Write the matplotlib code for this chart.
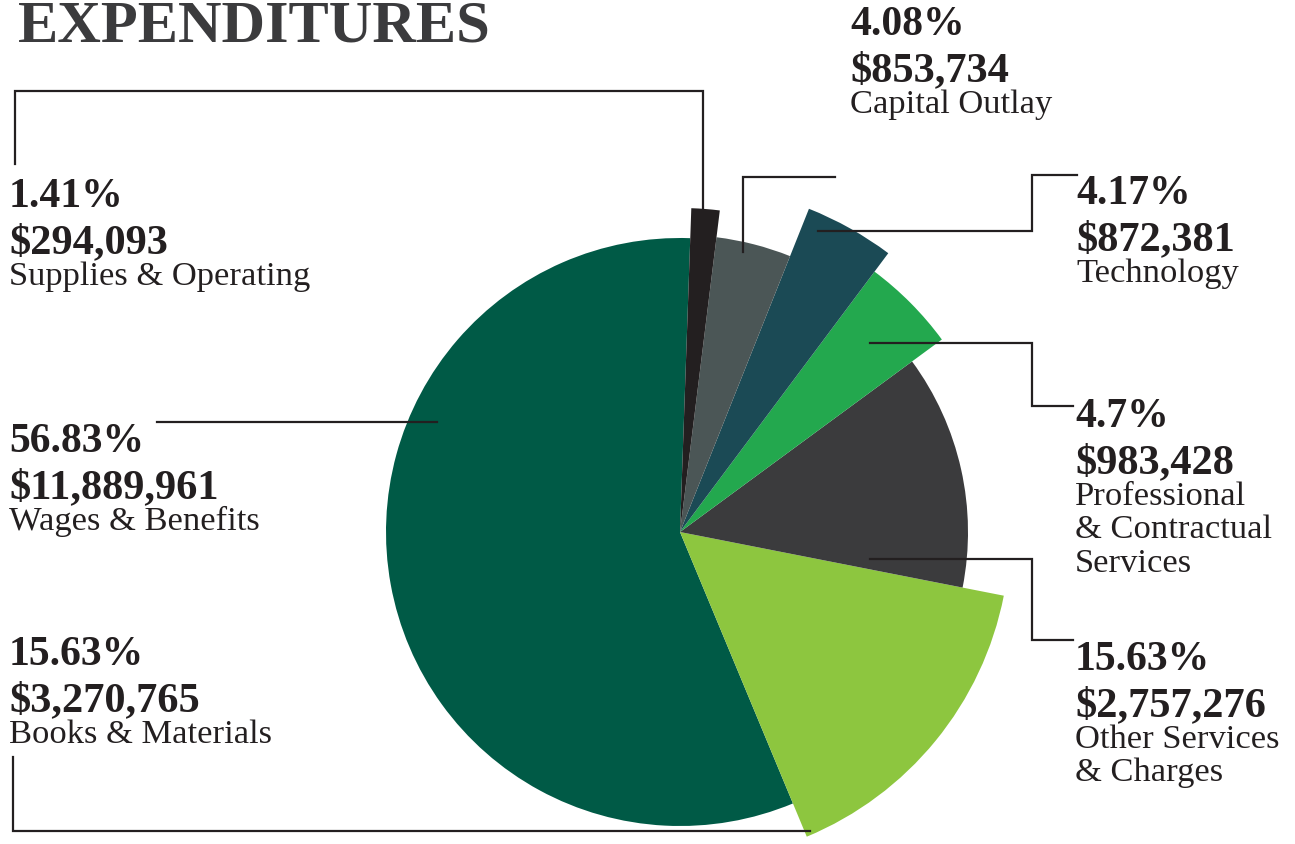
import matplotlib.pyplot as plt

# Expenditure categories, in pie order (counter-clockwise from the top)
categories = ["Wages & Benefits", "Books & Materials", "Other Services\n& Charges",
              "Professional\n& Contractual\nServices", "Technology",
              "Capital Outlay", "Supplies & Operating"]
amounts = [11889961, 3270765, 2757276, 983428, 872381, 853734, 294093]
pct_labels = ["56.83%", "15.63%", "15.63%", "4.7%", "4.17%", "4.08%", "1.41%"]

colors = ["#005a46", "#8dc63f", "#3b3b3d", "#23a84e", "#1b4a55", "#4b5656", "#231f20"]
radii = [294, 330, 288, 325, 348, 297, 324]

W, H = 1295, 845
ink = "#231f20"
serif = "Liberation Serif"

fig = plt.figure(figsize=(W / 100, H / 100), dpi=100)
ax = fig.add_axes([0, 0, 1, 1])

# everything below is laid out in pixel units, y measured from the top
def px(x, y):
    return x, H - y

cx, cy = px(680, 533)
wedges, _ = ax.pie(amounts, colors=colors, startangle=88, counterclock=True,
                   center=(cx, cy), radius=300, wedgeprops=dict(linewidth=0))
for w, r in zip(wedges, radii):
    w.set_radius(r)

ax.set_xlim(0, W)
ax.set_ylim(0, H)
ax.axis("off")

# label block anchors: left x and baseline of the percentage line
label_pos = [(9, 452), (9, 665), (1075, 670), (1075, 427), (1076, 204), (850, 35), (9, 207)]

for name, amt, pct, (x, y) in zip(categories, amounts, pct_labels, label_pos):
    ax.text(*px(x, y), pct, fontsize=30, weight="bold", family=serif, color=ink, va="baseline")
    ax.text(*px(x, y + 46), f"${amt:,}", fontsize=30.5, weight="bold", family=serif,
            color=ink, va="baseline")
    for i, line in enumerate(name.split("\n")):
        ax.text(*px(x, y + 78 + i * 33.5), line, fontsize=24.8, family=serif,
                color=ink, va="baseline")

# leader lines
leaders = [
    [(157, 423), (437, 423)],
    [(13, 758), (13, 832), (810, 832)],
    [(1073, 641), (1032, 641), (1032, 560), (870, 560)],
    [(1073, 407), (1032, 407), (1032, 344), (870, 344)],
    [(1077, 176), (1032, 176), (1032, 232), (818, 232)],
    [(835, 178), (743, 178), (743, 253)],
    [(15, 165), (15, 92), (703, 92), (703, 212)],
]
for pts in leaders:
    xs, ys = zip(*[px(x, y) for x, y in pts])
    ax.plot(xs, ys, color=ink, lw=1.6, solid_joinstyle="miter")

ax.text(*px(18, 41), "EXPENDITURES", fontsize=43.5, weight="bold", family=serif,
        color="#3b3b3d", va="baseline")

fig.savefig("out.png", dpi=100)
